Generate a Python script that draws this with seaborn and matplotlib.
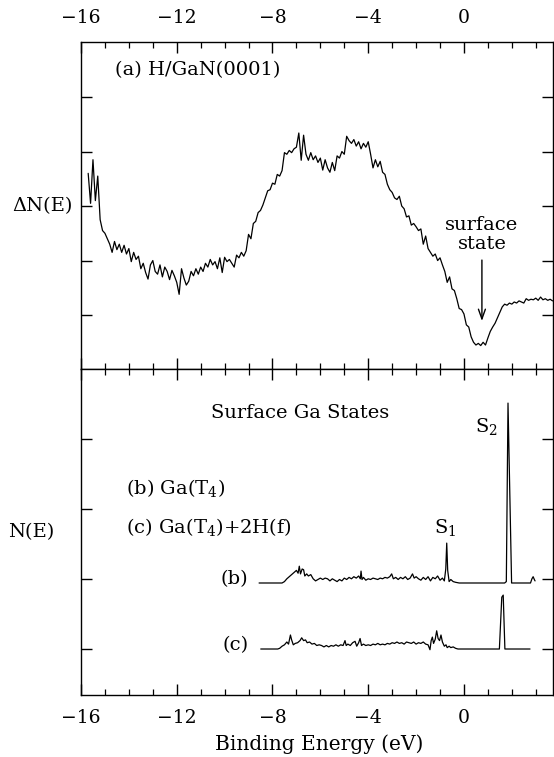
import numpy as np
import pandas as pd
import matplotlib
matplotlib.use("Agg")
import matplotlib.pyplot as plt
import seaborn as sns
from matplotlib.ticker import MultipleLocator

# ---------------- data ----------------
# (a) difference spectrum Delta N(E), sampled every 0.1 eV from -15.7 to 3.7 eV
dN_values = [
    2.60, 2.05, 2.85, 2.10, 2.55, 1.75, 1.55, 1.50,
    1.40, 1.30, 1.15, 1.35, 1.20, 1.30, 1.15, 1.28, 1.12, 1.22,
    0.98, 1.15, 1.02, 1.08, 0.85, 0.95, 0.78, 0.66, 0.92, 1.00,
    0.80, 0.75, 0.92, 0.70, 0.88, 0.80, 0.65, 0.82, 0.72, 0.60,
    0.38, 0.85, 0.68, 0.55, 0.62, 0.80, 0.72, 0.85, 0.75, 0.88,
    0.80, 0.95, 0.88, 1.02, 0.92, 0.98, 0.85, 1.05, 0.78, 1.06,
    0.98, 1.02, 0.95, 0.88, 1.10, 1.05, 1.15, 1.08, 1.18, 1.48,
    1.40, 1.68, 1.72, 1.88, 1.92, 2.02, 2.15, 2.28, 2.30, 2.42,
    2.40, 2.58, 2.55, 2.65, 2.98, 2.95, 3.02, 2.98, 3.05, 3.08,
    3.34, 2.84, 3.30, 2.95, 2.84, 2.98, 2.85, 2.92, 2.80, 2.88,
    2.66, 2.85, 2.70, 2.62, 2.80, 2.65, 2.92, 2.88, 3.00, 2.95,
    3.28, 3.20, 3.15, 3.22, 3.10, 3.18, 3.05, 3.15, 3.08, 3.18,
    2.95, 2.70, 2.85, 2.72, 2.82, 2.62, 2.58, 2.40, 2.30, 2.25,
    2.15, 2.12, 2.18, 2.00, 1.95, 1.80, 1.82, 1.65, 1.68, 1.62,
    1.55, 1.58, 1.30, 1.45, 1.22, 1.15, 1.08, 1.12, 1.00, 1.05,
    0.92, 0.80, 0.60, 0.70, 0.48, 0.45, 0.30, 0.12, 0.10, 0.02,
    -0.18, -0.22, -0.40, -0.50, -0.55, -0.52, -0.56, -0.50, -0.55, -0.42,
    -0.30, -0.22, -0.15, -0.05, 0.05, 0.15, 0.20, 0.18, 0.22, 0.20,
    0.24, 0.22, 0.26, 0.24, 0.22, 0.30, 0.27, 0.29, 0.28, 0.31,
    0.27, 0.33, 0.28, 0.30, 0.27, 0.29, 0.26,
]
dN_energy = np.linspace(-15.7, 3.7, len(dN_values))

# (b) Ga(T4) surface-Ga density of states
b_energy = [-8.56, -7.60, -7.50, -7.40, -7.30, -7.20, -7.10, -7.00, -6.93, -6.88,
            -6.83, -6.76, -6.70, -6.65, -6.57, -6.50, -6.40, -6.30, -6.20, -6.10,
            -6.00, -5.90, -5.80, -5.70, -5.60, -5.50, -5.40, -5.30, -5.20, -5.10,
            -5.00, -4.90, -4.80, -4.70, -4.60, -4.50, -4.40, -4.33, -4.30, -4.26,
            -4.20, -4.10, -4.00, -3.90, -3.80, -3.70, -3.60, -3.50, -3.40, -3.30,
            -3.20, -3.10, -3.02, -2.95, -2.85, -2.75, -2.65, -2.55, -2.45, -2.35,
            -2.25, -2.15, -2.08, -2.00, -1.90, -1.80, -1.70, -1.60, -1.50, -1.40,
            -1.30, -1.20, -1.10, -1.00, -0.90, -0.82, -0.76, -0.72, -0.68, -0.62,
            -0.55, -0.45, -0.35, -0.20, 1.70, 1.77, 1.84, 1.92, 1.99, 2.78,
            2.84, 2.89, 2.94, 2.97]
b_dos = [0.00, 0.00, 0.02, 0.06, 0.09, 0.12, 0.15, 0.18, 0.14, 0.24,
         0.13, 0.20, 0.19, 0.10, 0.13, 0.10, 0.12, 0.06, 0.03, 0.05,
         0.07, 0.05, 0.07, 0.06, 0.03, 0.06, 0.04, 0.02, 0.05, 0.03,
         0.07, 0.05, 0.08, 0.06, 0.09, 0.07, 0.10, 0.06, 0.17, 0.05,
         0.08, 0.04, 0.06, 0.05, 0.07, 0.06, 0.05, 0.07, 0.06, 0.08,
         0.07, 0.09, 0.13, 0.06, 0.08, 0.05, 0.08, 0.06, 0.09, 0.05,
         0.07, 0.13, 0.07, 0.09, 0.06, 0.04, 0.08, 0.05, 0.09, 0.03,
         0.08, 0.06, 0.10, 0.04, 0.07, 0.03, 0.20, 0.57, 0.18, 0.02,
         0.05, 0.02, 0.01, 0.00, 0.00, 0.02, 2.57, 1.20, 0.00, 0.00,
         0.06, 0.09, 0.05, 0.03]

# (c) Ga(T4)+2H(f) surface-Ga density of states
c_energy = [-8.49, -7.78, -7.70, -7.60, -7.50, -7.40, -7.33, -7.25, -7.20, -7.13,
            -7.05, -6.95, -6.85, -6.78, -6.70, -6.62, -6.55, -6.45, -6.35, -6.25,
            -6.15, -6.05, -5.95, -5.85, -5.75, -5.65, -5.55, -5.45, -5.35, -5.25,
            -5.15, -5.05, -4.97, -4.92, -4.85, -4.75, -4.65, -4.55, -4.48, -4.40,
            -4.34, -4.28, -4.20, -4.10, -4.00, -3.90, -3.80, -3.70, -3.60, -3.50,
            -3.40, -3.30, -3.20, -3.10, -3.00, -2.90, -2.80, -2.70, -2.60, -2.50,
            -2.40, -2.30, -2.20, -2.10, -2.00, -1.90, -1.80, -1.70, -1.60, -1.50,
            -1.42, -1.37, -1.32, -1.27, -1.20, -1.14, -1.08, -1.02, -0.96, -0.90,
            -0.82, -0.75, -0.70, -0.62, -0.55, -0.45, -0.35, -0.25, 1.48, 1.58,
            1.64, 1.71, 2.76]
c_dos = [0.00, 0.00, 0.01, 0.04, 0.06, 0.10, 0.07, 0.20, 0.13, 0.06,
         0.08, 0.09, 0.12, 0.16, 0.12, 0.13, 0.09, 0.10, 0.07, 0.08,
         0.05, 0.06, 0.05, 0.03, 0.05, 0.03, 0.05, 0.04, 0.06, 0.04,
         0.06, 0.05, 0.12, 0.05, 0.07, 0.05, 0.09, 0.11, 0.04, 0.09,
         0.15, 0.05, 0.07, 0.05, 0.06, 0.05, 0.07, 0.06, 0.08, 0.06,
         0.07, 0.06, 0.08, 0.07, 0.09, 0.08, 0.10, 0.08, 0.09, 0.07,
         0.10, 0.09, 0.08, 0.10, 0.07, 0.09, 0.08, 0.10, 0.07, 0.06,
         -0.01, 0.12, 0.17, 0.08, 0.14, 0.26, 0.15, 0.12, 0.20, 0.10,
         0.04, 0.06, 0.02, 0.04, 0.02, 0.03, 0.01, 0.00, 0.00, 0.74,
         0.77, 0.00, 0.00]

x_ticks = [-16, -12, -8, -4, 0]
x_tick_labels = ["\u221216", "\u221212", "\u22128", "\u22124", "0"]

# vertical offsets of the stacked spectra in panel 2
b_offset = 0.943
c_offset = 0.0

# ---------------- style ----------------
sns.set_style("ticks")
plt.rcParams["font.family"] = ["DejaVu Serif"]
plt.rcParams["mathtext.fontset"] = "dejavuserif"
plt.rcParams["axes.linewidth"] = 1.0
plt.rcParams["text.color"] = "black"
plt.rcParams["xtick.color"] = "black"
plt.rcParams["ytick.color"] = "black"

W, H = 554, 757
fig = plt.figure(figsize=(W / 100, H / 100), dpi=100)
L, R = 81, 553
ax1 = fig.add_axes([L / W, 1 - 369 / H, (R - L) / W, 327 / H])
ax2 = fig.add_axes([L / W, 1 - 695 / H, (R - L) / W, 326 / H])

df_a = pd.DataFrame({"E": dN_energy, "dN": dN_values})
df_b = pd.DataFrame({"E": b_energy, "N": np.array(b_dos) + b_offset})
df_c = pd.DataFrame({"E": c_energy, "N": np.array(c_dos) + c_offset})

lw = 0.9
sns.lineplot(data=df_a, x="E", y="dN", ax=ax1, color="black", lw=lw,
             estimator=None, sort=False)
sns.lineplot(data=df_b, x="E", y="N", ax=ax2, color="black", lw=lw,
             estimator=None, sort=False)
sns.lineplot(data=df_c, x="E", y="N", ax=ax2, color="black", lw=lw,
             estimator=None, sort=False)

xlim = (-16, 3.72)
for ax in (ax1, ax2):
    ax.set_xlim(*xlim)
    ax.set_xlabel("")
    ax.set_ylabel("")
    for s in ax.spines.values():
        s.set_visible(True)
        s.set_color("black")
        s.set_linewidth(1.0)
    ax.set_xticks(x_ticks)
    ax.xaxis.set_minor_locator(MultipleLocator(1))
    ax.tick_params(axis="x", which="major", direction="in", length=8, width=1.0,
                   top=True, bottom=True, labelsize=13.5)
    ax.tick_params(axis="x", which="minor", direction="in", length=4, width=0.9,
                   top=True, bottom=True)
    ax.tick_params(axis="y", which="major", direction="in", length=8, width=1.0,
                   left=True, right=True, labelleft=False, labelright=False)
    ax.tick_params(axis="y", which="minor", left=False, right=False)

ax1.set_ylim(-0.99, 5.01)
ax1.set_yticks([0, 1, 2, 3, 4])
ax1.set_xticklabels(x_tick_labels)
ax1.tick_params(axis="x", which="major", labeltop=True, labelbottom=False, pad=11)

ax2.set_ylim(-0.657, 4.0)
ax2.set_yticks([0, 1, 2, 3])
ax2.set_xticklabels(x_tick_labels)
ax2.tick_params(axis="x", which="major", labeltop=False, labelbottom=True, pad=10)

fs = 14
# panel (a) annotations
ax1.text(-14.6, 4.5, "(a) H/GaN(0001)", fontsize=fs, ha="left", va="center")
ax1.text(0.75, 1.65, "surface", fontsize=fs, ha="center", va="center")
ax1.text(0.75, 1.30, "state", fontsize=fs, ha="center", va="center")
ax1.annotate("", xy=(0.75, -0.16), xytext=(0.75, 1.06),
             arrowprops=dict(arrowstyle="->,head_length=0.7,head_width=0.25",
                             color="black", lw=1.0))

# panel (b)/(c) annotations
ax2.text(-6.85, 3.37, "Surface Ga States", fontsize=fs, ha="center", va="center")
ax2.text(-14.1, 2.3, "(b) Ga(T$_4$)", fontsize=fs, ha="left", va="center")
ax2.text(-14.1, 1.74, "(c) Ga(T$_4$)+2H(f)", fontsize=fs, ha="left", va="center")
ax2.text(0.95, 3.18, "S$_2$", fontsize=fs, ha="center", va="center")
ax2.text(-0.78, 1.74, "S$_1$", fontsize=fs, ha="center", va="center")
ax2.text(-9.0, 1.0, "(b)", fontsize=fs, ha="right", va="center")
ax2.text(-9.0, 0.06, "(c)", fontsize=fs, ha="right", va="center")

# axis labels
fig.text(12 / W, 1 - 206 / H, "\u0394N(E)", fontsize=fs, ha="left", va="center")
fig.text(8 / W, 1 - 532 / H, "N(E)", fontsize=fs, ha="left", va="center")
fig.text(319 / W, 1 - 744 / H, "Binding Energy (eV)", fontsize=14.5,
         ha="center", va="center")

fig.savefig("out.png", dpi=100)
